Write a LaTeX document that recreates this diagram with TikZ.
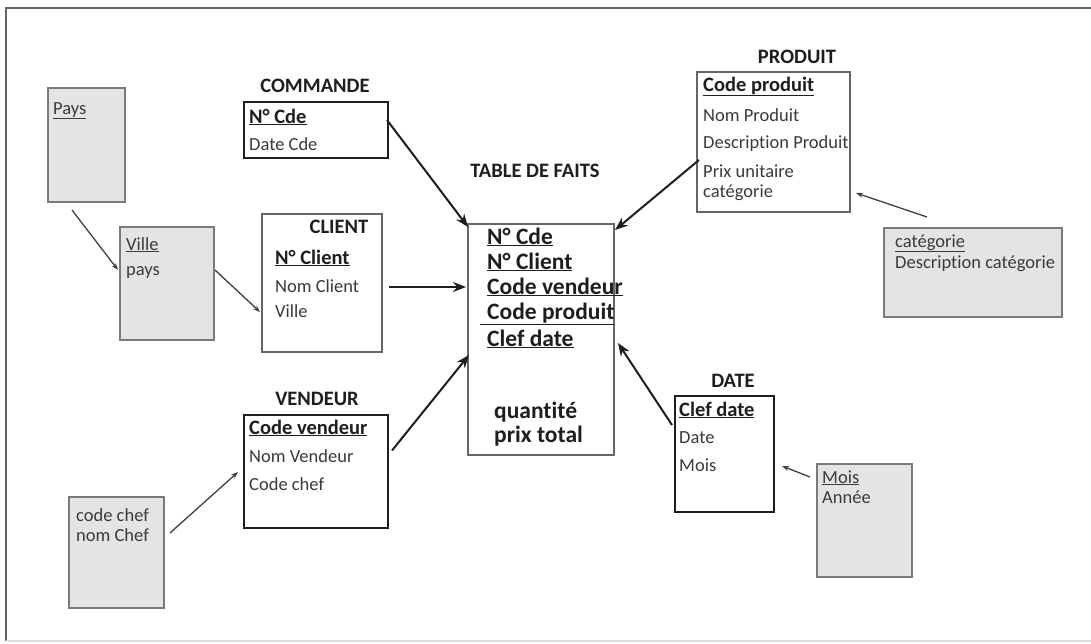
\documentclass[tikz,border=0pt]{standalone}
\usepackage{fontspec}
\setmainfont{Carlito}[Ligatures=NoCommon]
\usetikzlibrary{calc,arrows.meta}

\definecolor{framec}{HTML}{5B6670}
\definecolor{inkc}{HTML}{1E1E1E}
\definecolor{itemc}{HTML}{3A3A3A}
\definecolor{shadec}{HTML}{E4E4E4}
\definecolor{shadeb}{HTML}{7A7A7A}

\tikzset{
  tbl/.style={draw=#1, inner sep=0pt, outer sep=0pt, anchor=north west},
  heavybox/.style={tbl=inkc, line width=2pt},
  lightbox/.style={tbl=black!60, line width=1.2pt},
  greybox/.style={tbl=shadeb, fill=shadec, line width=1.5pt},
  head/.style={inner sep=0pt, anchor=base, text=inkc, font=\fontsize{20.5}{24}\selectfont\bfseries},
  key/.style={inner sep=0pt, anchor=base west, text=inkc, font=\fontsize{20.5}{24}\selectfont\bfseries},
  fact/.style={inner sep=0pt, anchor=base west, text=inkc, font=\fontsize{23.5}{28}\selectfont\bfseries},
  item/.style={inner sep=0pt, anchor=base west, text=itemc, font=\fontsize{18.5}{22}\selectfont},
  link/.style={draw=inkc, line width=2pt, -{Stealth[length=13pt,width=10pt]}},
  sublink/.style={draw=black!75, line width=1.3pt, -{Stealth[length=7pt,width=5pt]}}
}

\begin{document}
\begin{tikzpicture}[x=1pt,y=-1pt]
\useasboundingbox (0,0) rectangle (1091,643);
\fill[white] (0,0) rectangle (1091,643);

% page frame
\draw[framec, line width=2pt] (6,641) -- (6,8) -- (1091,8);
\draw[cyan!15!gray!30, line width=2pt] (6,641) -- (1091,641);

% tables
\node[greybox, minimum width=77pt, minimum height=114pt] (pays) at (48,88) {};
\node[greybox, minimum width=94pt, minimum height=113pt] (ville) at (120,227) {};
\node[heavybox, minimum width=144pt, minimum height=56pt] (cmd) at (244,102) {};
\node[lightbox, minimum width=120pt, minimum height=138pt] (client) at (262,214) {};
\node[lightbox, minimum width=146pt, minimum height=231pt] (fact) at (468,224) {};
\node[lightbox, minimum width=153pt, minimum height=140pt] (prod) at (697,72) {};
\node[greybox, minimum width=178pt, minimum height=89pt] (cat) at (884,228) {};
\node[heavybox, minimum width=99pt, minimum height=116pt] (date) at (675,396) {};
\node[greybox, minimum width=95pt, minimum height=113pt] (mois) at (817,464) {};
\node[heavybox, minimum width=144pt, minimum height=113pt] (vend) at (244,415) {};
\node[greybox, minimum width=95pt, minimum height=111pt] (chef) at (69,497) {};

% table titles
\node[head] (hcmd) at (315,92) {COMMANDE};
\node[head] (hclient) at (339,233) {CLIENT};
\node[head] (hfact) at (535,177) {TABLE DE FAITS};
\node[head] (hprod) at (797,63) {PRODUIT};
\node[head] (hdate) at (733,387) {DATE};
\node[head] (hvend) at (317,405) {VENDEUR};

% Pays / Ville
\node[item] (pays1) at (53,114) {\underline{Pays}};
\node[item] (ville1) at (126,250) {\underline{Ville}};
\node[item] (ville2) at (126,275) {pays};

% COMMANDE
\node[key] (cmd1) at (249,123) {\underline{N° Cde}};
\node[item] (cmd2) at (249,150) {Date Cde};

% CLIENT
\node[key] (client1) at (275,264) {\underline{N° Client}};
\node[item] (client2) at (275,292) {Nom Client};
\node[item] (client3) at (275,317) {Ville};

% TABLE DE FAITS
\node[fact] (f1) at (487,244) {\underline{N° Cde}};
\node[fact] (f2) at (487,269) {\underline{N° Client}};
\node[fact] (f3) at (487,294) {\underline{Code vendeur}};
\node[fact] (f4) at (480,319) {\underline{\hspace{7pt}Code produit}};
\node[fact] (f5) at (487,346) {\underline{Clef date}};
\node[fact] (f6) at (494,418) {quantité};
\node[fact] (f7) at (494,442) {prix total};

% PRODUIT
\node[key] (p1) at (703,91) {\underline{Code produit}};
\node[item] (p2) at (703,121) {Nom Produit};
\node[item] (p3) at (703,148) {Description Produit};
\node[item] (p4) at (703,177) {Prix unitaire};
\node[item] (p5) at (703,197) {catégorie};

% catégorie
\node[item] (c1) at (895,247) {\underline{catégorie}};
\node[item] (c2) at (895,268) {Description catégorie};

% DATE
\node[key] (d1) at (679,416) {\underline{Clef date}};
\node[item] (d2) at (679,443) {Date};
\node[item] (d3) at (679,471) {Mois};

% Mois
\node[item] (m1) at (822,483) {\underline{Mois}};
\node[item] (m2) at (822,503) {Année};

% VENDEUR
\node[key] (v1) at (249,434) {\underline{Code vendeur}};
\node[item] (v2) at (249,462) {Nom Vendeur};
\node[item] (v3) at (249,490) {Code chef};

% chef
\node[item] (ch1) at (76,521) {code chef};
\node[item] (ch2) at (76,541) {nom Chef};

% links to the fact table
\draw[link] ($(cmd.north east)+(-1,18)$) -- ($(fact.north west)+(0,3)$);
\draw[link] ($(prod.west)+(2,18)$) -- ($(fact.north east)+(1,6)$);
\draw[link] ($(client.east)+(7,4)$) -- ($(fact.north west)+(-2,63)$);
\draw[link] ($(vend.east)+(4,-21)$) -- ($(fact.north west)+(1,131)$);
\draw[link] ($(date.north west)+(-3,29)$) -- ($(fact.north east)+(4,119)$);

% links between dimension tables
\draw[sublink] ($(pays.south west)+(24,8)$) -- ($(ville.north west)+(-2,43)$);
\draw[sublink] ($(ville.north east)+(1,43)$) -- ($(client.north west)+(-2,98)$);
\draw[sublink] ($(chef.north east)+(6,36)$) -- ($(vend.north west)+(-6,57)$);
\draw[sublink] ($(cat.north west)+(43,-11)$) -- ($(prod.north east)+(6,121)$);
\draw[sublink] ($(mois.north west)+(-7,13)$) -- ($(date.north east)+(8,70)$);
\end{tikzpicture}
\end{document}
